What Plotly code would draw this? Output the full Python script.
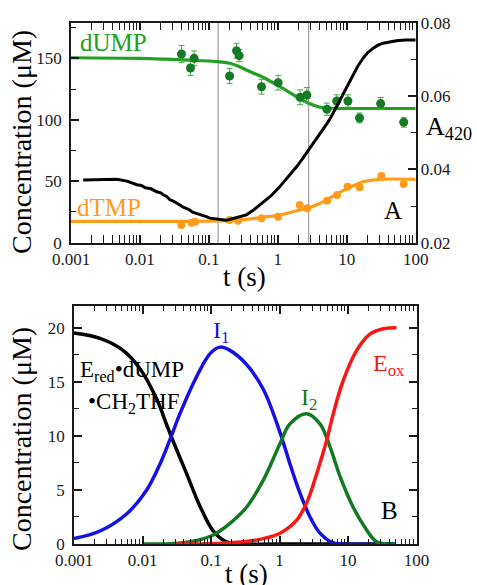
import plotly.graph_objects as go

W, H = 477, 585
def px(x): return x / W
def py(y): return 1 - y / H

# ---------------- data: panel A ----------------
dump_t = [0.040, 0.054, 0.061, 0.20, 0.252, 0.275, 0.58, 1.01, 2.10, 2.64, 5.15, 7.15, 10.4, 15.3, 31.0, 67.0]
dump_c = [153.5, 142.1, 150.0, 135.6, 156.2, 152.2, 126.9, 130.2, 118.3, 120.2, 108.6, 115.3, 115.3, 101.5, 113.2, 98.0]
dump_err = [7, 6, 6, 6, 6, 5, 6, 6, 6, 6, 5, 5, 5, 4, 5, 4]

dump_fit_t = [0.001, 0.01, 0.0243, 0.05, 0.136, 0.2, 0.28, 0.35, 0.61, 1.07, 1.87, 2.8, 4.1, 6.9, 10, 30, 100]
dump_fit_c = [150.5, 150.0, 149.3, 148.6, 147.3, 146.0, 143.2, 140.5, 134.6, 126.9, 118.8, 113.4, 110.2, 109.2, 109.2, 109.2, 109.2]

dtmp_t = [0.040, 0.056, 0.063, 0.20, 0.266, 0.58, 1.01, 2.08, 2.66, 5.18, 7.23, 10.3, 15.4, 31.8, 67.0]
dtmp_c = [14.4, 16.3, 17.1, 18.5, 17.9, 19.9, 21.2, 30.7, 28.0, 34.2, 38.8, 45.6, 45.1, 54.3, 47.8]

dtmp_fit_t = [0.001, 0.01, 0.05, 0.1, 0.2, 0.35, 0.61, 1.07, 1.87, 2.8, 4.1, 5.9, 8.3, 11.7, 17.2, 30, 100]
dtmp_fit_c = [17.3, 17.3, 17.4, 17.6, 18.0, 19.0, 20.7, 22.5, 26.0, 28.3, 32.1, 36.9, 41.5, 45.6, 49.6, 51.6, 51.6]

a420_t = [0.0015, 0.0025, 0.0046, 0.0065, 0.009, 0.0105, 0.012, 0.0145, 0.0175, 0.020, 0.022, 0.0245, 0.0272,
          0.030, 0.034, 0.038, 0.0424, 0.047, 0.052, 0.058, 0.066, 0.074, 0.082, 0.092, 0.103, 0.12, 0.144,
          0.18, 0.225, 0.28, 0.35, 0.45, 0.6, 0.8, 1.07, 1.4, 1.87, 2.3, 2.91, 3.6, 4.54, 5.4, 6.33, 7.5,
          8.83, 10.4, 12.3, 14.5, 17.2, 20, 24, 28, 33.6, 42, 52.5, 70, 100]
a420_v = [0.0371, 0.0372, 0.0373, 0.0368, 0.0358, 0.0356, 0.0350, 0.0347, 0.0339, 0.0336, 0.0330, 0.0326, 0.0317,
          0.0314, 0.0309, 0.0303, 0.0297, 0.0293, 0.0290, 0.0283, 0.0280, 0.0276, 0.0273, 0.0271, 0.0267, 0.0265, 0.0262,
          0.0261, 0.0266, 0.0270, 0.0276, 0.0290, 0.0308, 0.0328, 0.0353, 0.0378, 0.0407, 0.0430, 0.0457, 0.0482, 0.0507, 0.0530, 0.0553, 0.0580,
          0.0607, 0.0633, 0.0657, 0.0682, 0.0703, 0.0718, 0.0730, 0.0738, 0.0744, 0.0748, 0.0751, 0.0753, 0.0753]

marker_times = [0.136, 2.8]

# ---------------- data: panel B ----------------
ered_t = [0.001, 0.0024, 0.0052, 0.0092, 0.0161, 0.0226, 0.028, 0.044, 0.069, 0.108, 0.169, 0.25, 1, 10, 50]
ered_c = [19.5, 19.0, 17.9, 16.2, 13.4, 11.0, 9.5, 6.5, 3.5, 1.2, 0.2, 0, 0, 0, 0]

i1_t = [0.001, 0.0024, 0.0059, 0.0115, 0.018, 0.025, 0.035, 0.062, 0.097, 0.135, 0.189, 0.33, 0.58, 0.91, 1.2, 1.42, 1.99, 2.79, 3.9, 6.1, 10, 50]
i1_c = [0.5, 1.2, 2.8, 5.0, 7.4, 9.6, 12.0, 15.5, 17.6, 18.2, 17.9, 16.6, 14.3, 11.2, 8.9, 7.4, 4.7, 2.5, 1.0, 0.1, 0, 0]

i2_t = [0.01, 0.03, 0.06, 0.108, 0.189, 0.33, 0.58, 1.02, 1.42, 2.49, 3.9, 5.45, 7.6, 11.9, 18.7, 26.2, 50]
i2_c = [0, 0.05, 0.3, 0.83, 1.9, 3.4, 5.9, 9.3, 11.1, 12.05, 11.1, 9.0, 6.3, 3.4, 1.3, 0.2, 0]

eox_t = [0.03, 0.1, 0.3, 0.58, 1.02, 1.78, 2.49, 3.49, 4.89, 6.1, 8.5, 13.4, 20.9, 32.7, 51]
eox_c = [0, 0.02, 0.2, 0.5, 1.0, 2.2, 3.8, 6.5, 9.6, 12.05, 15.1, 17.9, 19.4, 19.9, 20.0]

TOP_YMAX = 179
BOT_YMAX = 22

# ---------------- colors / fonts ----------------
FONT = "Liberation Serif, Times New Roman, Times, DejaVu Serif, serif"
GREEN_LINE = "#22a022"
GREEN_PT = "#147a24"
GREEN_ERR = "#4aa84a"
ORANGE = "#ff9c1a"
BLUE = "#1212e6"
GREEN_B = "#127a22"
RED = "#ff1414"
AXC = "#1a1a1a"

fig = go.Figure()

# panel A
for tv in marker_times:
    fig.add_trace(go.Scatter(x=[tv, tv], y=[0, TOP_YMAX], mode="lines",
                             line=dict(color="#a0a0a0", width=1.2), xaxis="x", yaxis="y", hoverinfo="skip"))
fig.add_trace(go.Scatter(x=dump_fit_t, y=dump_fit_c, mode="lines", line=dict(color=GREEN_LINE, width=3.2, shape="spline", smoothing=0.8),
                         xaxis="x", yaxis="y"))
fig.add_trace(go.Scatter(x=dump_t, y=dump_c, mode="markers", marker=dict(color=GREEN_PT, size=9),
                         error_y=dict(type="data", array=dump_err, color=GREEN_ERR, thickness=1, width=3),
                         xaxis="x", yaxis="y"))
fig.add_trace(go.Scatter(x=dtmp_fit_t, y=dtmp_fit_c, mode="lines", line=dict(color=ORANGE, width=3.2, shape="spline", smoothing=0.8),
                         xaxis="x", yaxis="y"))
fig.add_trace(go.Scatter(x=dtmp_t, y=dtmp_c, mode="markers", marker=dict(color=ORANGE, size=8),
                         xaxis="x", yaxis="y"))
fig.add_trace(go.Scatter(x=a420_t, y=a420_v, mode="lines", line=dict(color="black", width=3),
                         xaxis="x", yaxis="y2"))

# panel B
for t, c, col in [(ered_t, ered_c, "black"), (i1_t, i1_c, BLUE), (i2_t, i2_c, GREEN_B), (eox_t, eox_c, RED)]:
    fig.add_trace(go.Scatter(x=t, y=c, mode="lines", line=dict(color=col, width=3.5, shape="spline", smoothing=1.0),
                             xaxis="x2", yaxis="y3"))

tickfont = dict(family=FONT, size=17, color=AXC)
common = dict(showline=True, linecolor=AXC, linewidth=1.5, ticks="inside", ticklen=8, tickwidth=1.6,
              tickcolor=AXC, showgrid=False, zeroline=False, tickfont=tickfont, automargin=False,
              layer="above traces")

minor_common = dict(ticks="inside", ticklen=5, tickwidth=1.4, tickcolor=AXC, showgrid=False)

xa = dict(common, type="log", range=[-3, 2], tickmode="linear", tick0=0, dtick=1,
          exponentformat="none", mirror="allticks", minor=dict(minor_common, dtick="D1"))

fig.update_layout(
    template="none",
    width=W, height=H, margin=dict(l=0, r=0, t=0, b=0, pad=0), autosize=False,
    paper_bgcolor="white", plot_bgcolor="white", showlegend=False,
    font=dict(family=FONT),
    xaxis=dict(xa, domain=[px(71), px(415.7)], anchor="y"),
    yaxis=dict(common, domain=[py(242.7), py(22.7)], anchor="x", range=[0, TOP_YMAX], dtick=50, tick0=0,
               ticklabelstandoff=4, minor=dict(minor_common, dtick=25)),
    yaxis2=dict(common, overlaying="y", side="right", anchor="x", range=[0.02, 0.08], dtick=0.02, tick0=0.02,
                tickformat=".2f", minor=dict(minor_common, dtick=0.01)),
    xaxis2=dict(xa, domain=[px(74), px(416.5)], anchor="y3"),
    yaxis3=dict(common, domain=[py(544), py(306)], anchor="x2", range=[0, BOT_YMAX], dtick=5, tick0=0,
                mirror="allticks", ticklabelstandoff=4, minor=dict(minor_common, dtick=2.5)),
)

def ann(text, x, y, size, color="black", xanchor="center", angle=0):
    fig.add_annotation(text=text, x=px(x), y=py(y), xref="paper", yref="paper", showarrow=False,
                       xanchor=xanchor, yanchor="middle", textangle=angle,
                       font=dict(family=FONT, size=size, color=color))

ann("Concentration (μM)", 21, 142, 28, angle=-90)
ann("t (s)", 245, 277, 27)
ann("dUMP", 113, 43, 25, GREEN_LINE)
ann("dTMP", 109, 207, 25, ORANGE)
ann("A", 393, 210, 25)
ann("A<sub>420</sub>", 424, 128, 26, xanchor="left")

ann("Concentration (μM)", 21, 439, 28, angle=-90)
ann("t (s)", 246, 574, 27)
ann("I<sub>1</sub>", 211, 332, 24, BLUE, xanchor="left")
ann("E<sub>red</sub>•dUMP", 78, 371, 23, xanchor="left")
ann("•CH<sub>2</sub>THF", 86, 403, 23, xanchor="left")
ann("I<sub>2</sub>", 299, 399, 24, GREEN_B, xanchor="left")
ann("E<sub>ox</sub>", 371, 365, 24, RED, xanchor="left")
ann("B", 389, 510, 25)

fig.write_html("out.html", config={"displayModeBar": False},
               post_script="document.body.style.margin='0px';document.body.style.overflow='hidden';")
